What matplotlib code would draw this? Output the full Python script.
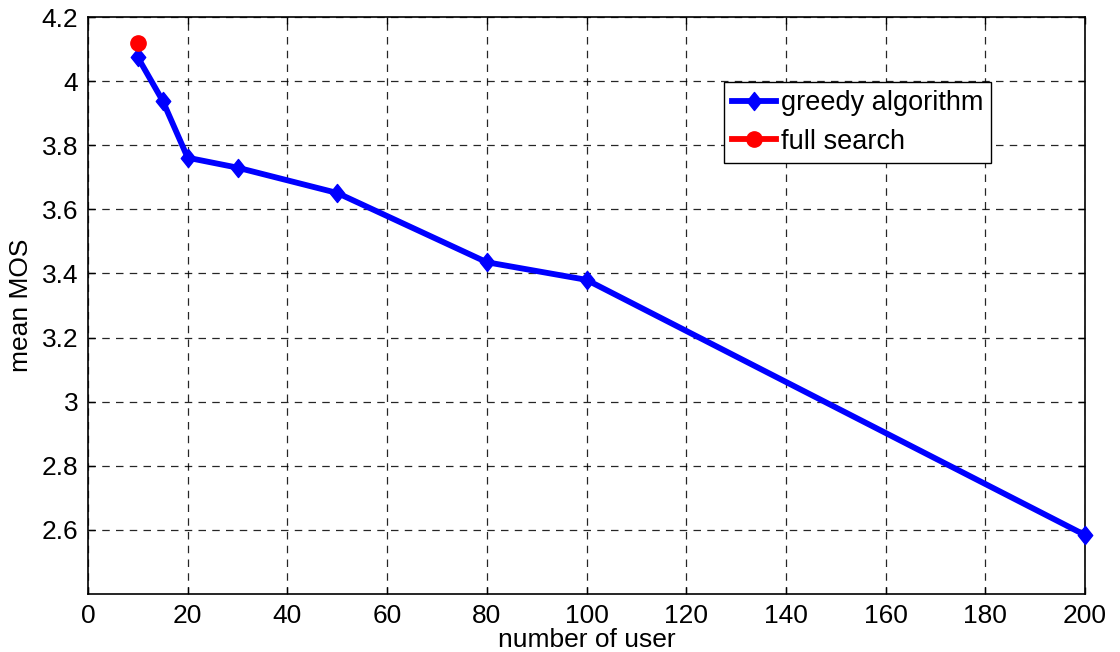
import matplotlib
matplotlib.use("Agg")
import matplotlib.pyplot as plt
from matplotlib.path import Path

users = [10, 15, 20, 30, 50, 80, 100, 200]
greedy_mos = [4.074, 3.938, 3.761, 3.730, 3.651, 3.435, 3.380, 2.584]
full_users = [10]
full_mos = [4.12]
xticks = list(range(0, 201, 20))
yticks = [2.6, 2.8, 3.0, 3.2, 3.4, 3.6, 3.8, 4.0, 4.2]
ytick_labels = ["2.6", "2.8", "3", "3.2", "3.4", "3.6", "3.8", "4", "4.2"]

plt.rcParams['font.family'] = ['Liberation Sans', 'DejaVu Sans']

fig = plt.figure(figsize=(11.2, 6.52), dpi=100)
ax = fig.add_axes([88/1120, 1 - 594/652, (1085-88)/1120, (594-17)/652])

diamond = Path([(0, 1), (0.8, 0), (0, -1), (-0.8, 0), (0, 1)],
               [Path.MOVETO, Path.LINETO, Path.LINETO, Path.LINETO, Path.CLOSEPOLY])

ax.plot(users, greedy_mos, color='#0000ff', lw=4.2, marker=diamond, ms=13,
        mfc='#0000ff', mec='#0000ff', label='greedy algorithm', zorder=3,
        clip_on=False)
ax.plot(full_users, full_mos, color='#ff0000', lw=4.2, marker='o', ms=11,
        mfc='#ff0000', mec='#ff0000', label='full search', zorder=3)

ax.set_xlim(0, 200)
ax.set_ylim(2.4, 4.2)
ax.set_xticks(xticks)
ax.set_yticks(yticks)
ax.set_yticklabels(ytick_labels)
ax.tick_params(direction='in', length=5, width=1, top=True, right=True,
               labelsize=19, pad=7)
ax.grid(True, color='black', linestyle=(0, (6, 5)), linewidth=0.9, alpha=0.85)
for s in ax.spines.values():
    s.set_linewidth(1.2)

ax.set_xlabel('number of user', fontsize=19, labelpad=0)
ax.set_ylabel('mean MOS', fontsize=19, labelpad=6)

leg = ax.legend(loc='upper left', bbox_to_anchor=(0.638, 0.887), fontsize=19.5,
                frameon=True, fancybox=False, edgecolor='black', framealpha=1,
                borderpad=0.3, handlelength=1.6, handletextpad=0.2,
                labelspacing=0.45, borderaxespad=0)
leg.get_frame().set_linewidth(1.0)

fig.savefig('out.png', dpi=100)
